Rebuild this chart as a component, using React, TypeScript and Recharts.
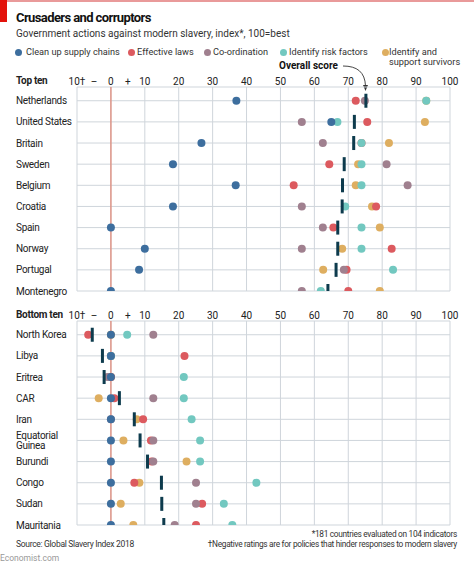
import React from "react";
import {
  CartesianGrid,
  ReferenceLine,
  Scatter,
  ScatterChart,
  XAxis,
  YAxis,
} from "recharts";

const FONT = "Roboto, sans-serif";

const BLUE = "#3d6e9e";
const RED = "#dc5a5f";
const MAUVE = "#a0808f";
const TEAL = "#72c8c0";
const GOLD = "#deae60";
const NAVY = "#0d3b4d";
const ZERO = "#e08a7a";
const GRID = "#cfd5db";
const INK = "#222";

const xTicks = [-10, -5, 0, 5, 10, 20, 30, 40, 50, 60, 70, 80, 90, 100];
const gridValues = [-10, 0, 10, 20, 30, 40, 50, 60, 70, 80, 90, 100];

const topCountries = ["Netherlands", "United States", "Britain", "Sweden", "Belgium", "Croatia", "Spain", "Norway", "Portugal", "Montenegro"];
const topSupply = [37, 65, 26.7, 18.3, 36.8, 18.3, 0, 10, 8.3, 0];
const topLaws = [72.2, 75.6, 73.9, 64.4, 53.9, 78.2, 65.6, 82.8, 69.5, 70];
const topCoord = [74.9, 56.3, 62.5, 81.3, 87.5, 56.3, 62.5, 56.3, 68.7, 56.3];
const topRisk = [93, 66.8, 73.9, 73.9, 73.9, 69.1, 73.9, 73.9, 83.2, 61.9];
const topSurvivors = [93, 92.6, 82, 72.9, 72.2, 77, 79.3, 68.2, 62.6, 79.3];
const topOverall = [75.2, 71.8, 71.6, 68.8, 68.3, 68.2, 66.9, 66.9, 66.4, 64];

const bottomCountries = ["North Korea", "Libya", "Eritrea", "CAR", "Iran", "Equatorial Guinea", "Burundi", "Congo", "Sudan", "Mauritania"];
const bottomSupply = [0, 0, 0, 0, 0, 0, 0, 0, 0, 0];
const bottomLaws = [-6.7, 21.7, 0, 1, 9.5, 11.8, 12, 6.9, 26.9, 25.1];
const bottomCoord = [12.5, 0, -1, 12.5, 0, 12.5, 12.5, 25.1, 25.1, 18.8];
const bottomRisk = [4.8, 0, 21.5, 21.5, 23.8, 26.3, 26.3, 42.9, 33.3, 35.8];
const bottomSurvivors = [0, 0, 0, -3.6, 7.6, 3.7, 22.3, 8.4, 2.9, 6.6];
const bottomOverall = [-5.5, -2.5, -2, 2.5, 6.9, 8.6, 10.8, 14.9, 15, 15.6];

const legendItems = [
  { label: "Clean up supply chains", color: BLUE, x: 18, gap: 8 },
  { label: "Effective laws", color: RED, x: 131, gap: 6 },
  { label: "Co-ordination", color: MAUVE, x: 207, gap: 6 },
  { label: "Identify risk factors", color: TEAL, x: 283, gap: 6 },
  { label: "Identify and\nsupport survivors", color: GOLD, x: 385, gap: 4 },
];

const toPoints = (vals: number[]) => vals.map((v, i) => ({ x: v, y: i }));

const xLabel = (v: number) => (v === -10 ? "10\u2020" : v === -5 ? "\u2013" : v === 5 ? "+" : String(v));

function XTick(props: any) {
  const { x, y, payload } = props;
  return (
    <text x={x} y={y} dy={6} textAnchor="middle" fontSize={10} fill={INK} fontFamily={FONT}>
      {xLabel(payload.value)}
    </text>
  );
}

function makeYTick(names: string[]) {
  return function YTick(props: any) {
    const { y, payload } = props;
    const name = names[payload.value] ?? "";
    const lines = name.length > 14 ? name.split(" ") : [name];
    const start = y - ((lines.length - 1) * 10) / 2;
    return (
      <text x={16} y={start} textAnchor="start" fontSize={10} fill={INK} fontFamily={FONT} style={{ letterSpacing: "-0.3px" }}>
        {lines.map((l, i) => (
          <tspan key={i} x={16} dy={i === 0 ? 3.5 : 10}>
            {l}
          </tspan>
        ))}
      </text>
    );
  };
}

const dot = (color: string) => (p: any) => <circle cx={p.cx} cy={p.cy} r={4} fill={color} />;
const bar = (p: any) => <rect x={p.cx - 1.5} y={p.cy - 7} width={3} height={14} fill={NAVY} />;

function Panel({
  top,
  heading,
  names,
  supply,
  laws,
  coord,
  risk,
  survivors,
  overall,
}: {
  top: number;
  heading: string;
  names: string[];
  supply: number[];
  laws: number[];
  coord: number[];
  risk: number[];
  survivors: number[];
  overall: number[];
}) {
  return (
    <div style={{ position: "absolute", left: 0, top }}>
      <ScatterChart width={474} height={237} margin={{ top: 0, right: 24, bottom: 8, left: 0 }}>
        <CartesianGrid stroke={GRID} strokeWidth={1} verticalValues={gridValues} />
        <XAxis
          type="number"
          dataKey="x"
          orientation="top"
          domain={[-10, 100]}
          ticks={xTicks}
          interval={0}
          allowDataOverflow
          height={25}
          axisLine={false}
          tickLine={false}
          tick={<XTick />}
        />
        <YAxis
          type="number"
          dataKey="y"
          domain={[-0.65, 9]}
          ticks={[0, 1, 2, 3, 4, 5, 6, 7, 8, 9]}
          interval={0}
          reversed
          allowDataOverflow
          width={77}
          axisLine={false}
          tickLine={false}
          tick={makeYTick(names)}
        />
        <ReferenceLine x={0} stroke={ZERO} strokeWidth={1.3} />
        <Scatter data={toPoints(survivors)} shape={dot(GOLD)} isAnimationActive={false} />
        <Scatter data={toPoints(laws)} shape={dot(RED)} isAnimationActive={false} />
        <Scatter data={toPoints(coord)} shape={dot(MAUVE)} isAnimationActive={false} />
        <Scatter data={toPoints(risk)} shape={dot(TEAL)} isAnimationActive={false} />
        <Scatter data={toPoints(supply)} shape={dot(BLUE)} isAnimationActive={false} />
        <Scatter data={toPoints(overall)} shape={bar} isAnimationActive={false} />
      </ScatterChart>
      <div style={{ position: "absolute", left: 16, top: 13, lineHeight: "12px", fontFamily: FONT, fontWeight: 700, fontSize: 10, letterSpacing: "-0.3px", color: INK }}>
        {heading}
      </div>
    </div>
  );
}

export default function App() {
  return (
    <div style={{ position: "absolute", left: 0, top: 0, width: 474, height: 565, background: "#fff", fontFamily: FONT, overflow: "hidden" }}>
      <div style={{ position: "absolute", left: 0, top: 0, width: 474, height: 2, background: "#e99a9a" }} />
      <div style={{ position: "absolute", left: 0, top: 0, width: 7, height: 22, background: "#e3120b" }} />
      <div style={{ position: "absolute", left: 16, top: 10, lineHeight: "16px", fontSize: 13, fontWeight: 700, letterSpacing: "-0.6px", color: "#111" }}>
        Crusaders and corruptors
      </div>
      <div style={{ position: "absolute", left: 16, top: 27.5, lineHeight: "12px", fontSize: 10, color: "#333" }}>
        Government actions against modern slavery, index*, 100=best
      </div>
      {legendItems.map((it) => (
        <div key={it.label}>
          <span style={{ position: "absolute", left: it.x - 3.5, top: 48.5, width: 7, height: 7, borderRadius: 4, background: it.color }} />
          <span style={{ position: "absolute", left: it.x + it.gap, top: 47, fontSize: 9.2, color: "#333", lineHeight: "9.5px", whiteSpace: "pre" }}>{it.label}</span>
        </div>
      ))}
      <div style={{ position: "absolute", left: 279, top: 60, lineHeight: "12px", fontSize: 10, fontWeight: 700, color: "#111" }}>
        Overall score
      </div>
      <svg style={{ position: "absolute", left: 0, top: 0 }} width={474} height={100}>
        <path d="M343,66 C357,66 365,72 365.5,86" fill="none" stroke="#333" strokeWidth={0.9} />
        <path d="M363,85 L368,85 L365.5,91 Z" fill="#333" />
      </svg>
      <Panel
        top={62}
        heading="Top ten"
        names={topCountries}
        supply={topSupply}
        laws={topLaws}
        coord={topCoord}
        risk={topRisk}
        survivors={topSurvivors}
        overall={topOverall}
      />
      <Panel
        top={296}
        heading="Bottom ten"
        names={bottomCountries}
        supply={bottomSupply}
        laws={bottomLaws}
        coord={bottomCoord}
        risk={bottomRisk}
        survivors={bottomSurvivors}
        overall={bottomOverall}
      />
      <div style={{ position: "absolute", left: 16, top: 538.7, lineHeight: "10px", fontSize: 8.5, letterSpacing: "-0.3px", color: "#333" }}>
        Source: Global Slavery Index 2018
      </div>
      <div style={{ position: "absolute", right: 17, top: 529.3, fontSize: 8.3, letterSpacing: "-0.3px", color: "#333", textAlign: "right", lineHeight: "10px" }}>
        *181 countries evaluated on 104 indicators
        <br />
        {"\u2020"}Negative ratings are for policies that hinder responses to modern slavery
      </div>
      <div style={{ position: "absolute", left: 0, top: 552.7, lineHeight: "10px", fontSize: 8.5, color: "#999" }}>Economist.com</div>
    </div>
  );
}
